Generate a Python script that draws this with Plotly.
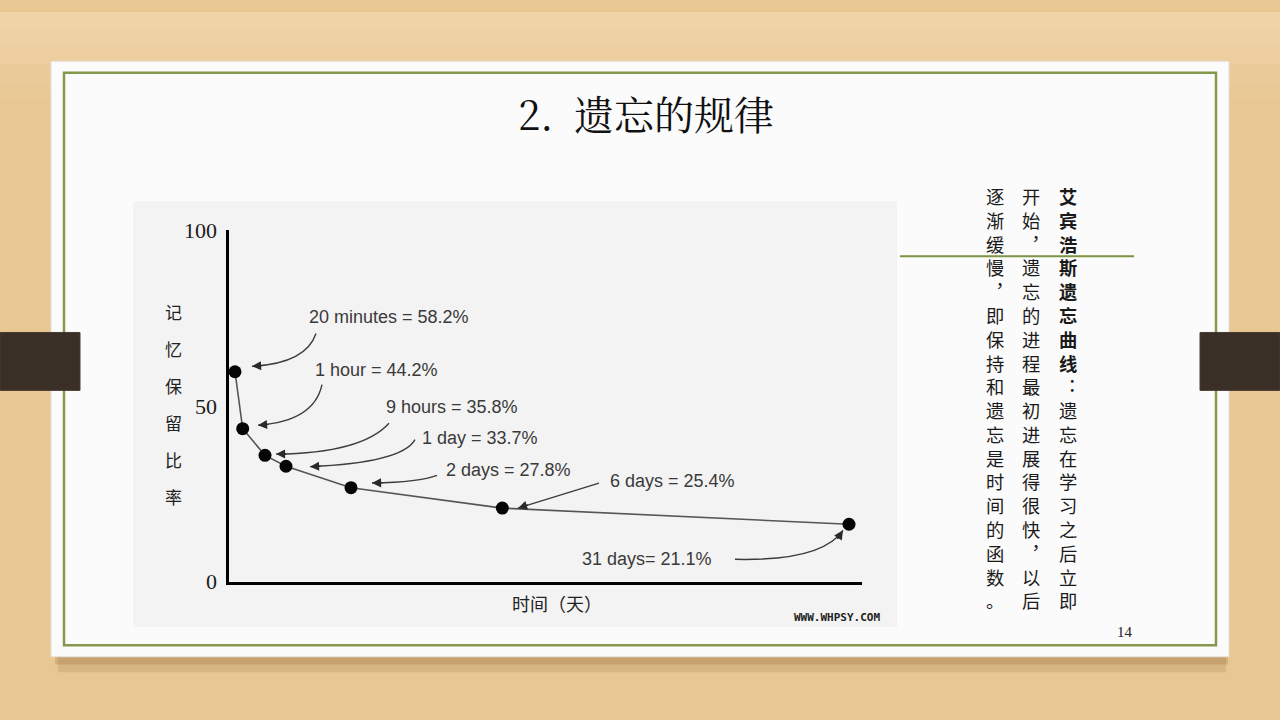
import plotly.graph_objects as go

# ---------------- data ----------------
time_labels = ["20 minutes", "1 hour", "9 hours", "1 day", "2 days", "6 days", "31 days"]
retention_pct = [58.2, 44.2, 35.8, 33.7, 27.8, 25.4, 21.1]
# position of each point along the (unlabelled) time axis, as drawn in the picture
time_axis_pos = [6.5, 14.2, 36.5, 57.5, 122.5, 273.8, 620.5]
# height of each point as drawn in the picture (0-100 retention scale)
plotted_retention = [59.7, 43.5, 35.9, 32.8, 26.7, 20.9, 16.3]
y_tick_vals = [0, 50, 100]
y_tick_text = ["0", "50", "100"]
y_title_chars = list("记忆保留比率")
x_title = "时间（天）"
title_text = "2.  遗忘的规律"
col1_bold = "艾宾浩斯遗忘曲线"
col1_rest = "︓遗忘在学习之后立即"
col2 = "开始︐遗忘的进程最初进展得很快︐以后"
col3 = "逐渐缓慢︐即保持和遗忘是时间的函数。"

W, H = 1280, 720
def px(x):
    return x / W
def py(y):
    return 1 - y / H

CJK = "Noto Sans CJK SC"
fig = go.Figure()

fig.add_trace(go.Scatter(
    x=time_axis_pos, y=plotted_retention, mode="lines+markers",
    line=dict(color="#555555", width=1.6),
    marker=dict(color="#050505", size=13),
    cliponaxis=False, showlegend=False, hoverinfo="skip"))

shapes = []
# lighter wash at top of the wood background (soft steps)
for k, op in enumerate([0.10, 0.12, 0.14, 0.16, 0.18]):
    shapes.append(dict(type="rect", xref="paper", yref="paper", x0=0, x1=1, y0=py(90 - k * 18), y1=1,
                       fillcolor=f"rgba(247,226,190,{op})", line=dict(width=0), layer="below"))
# page shadow
shapes.append(dict(type="rect", xref="paper", yref="paper", x0=px(58), x1=px(1226), y0=py(684), y1=py(668),
                   fillcolor="rgba(110,70,20,0.13)", line=dict(width=0), layer="below"))
shapes.append(dict(type="rect", xref="paper", yref="paper", x0=px(55), x1=px(1228), y0=py(676), y1=py(668),
                   fillcolor="rgba(110,70,20,0.18)", line=dict(width=0), layer="below"))
# white slide card
shapes.append(dict(type="rect", xref="paper", yref="paper", x0=px(51), x1=px(1229), y0=py(668), y1=py(51),
                   fillcolor="#fbfbfb", line=dict(color="#e4e0da", width=1), layer="below"))
# chart picture background
shapes.append(dict(type="rect", xref="paper", yref="paper", x0=px(133), x1=px(897), y0=py(637), y1=py(196),
                   fillcolor="#f3f3f3", line=dict(width=0), layer="below"))
# green frame
shapes.append(dict(type="rect", xref="paper", yref="paper", x0=px(64), x1=px(1216), y0=py(656), y1=py(63),
                   fillcolor="rgba(0,0,0,0)", line=dict(color="#86984b", width=2.5), layer="below"))
# brown tabs
for x0, x1 in [(0, 80), (1200, 1280)]:
    shapes.append(dict(type="rect", xref="paper", yref="paper", x0=px(x0), x1=px(x1), y0=py(392), y1=py(332),
                       fillcolor="#3a2f27", line=dict(color="#4a3d31", width=1), layer="above"))
# green rule next to the vertical text
shapes.append(dict(type="line", xref="paper", yref="paper", x0=px(900), x1=px(1134), y0=py(253), y1=py(253),
                   line=dict(color="#7d9440", width=2)))

# curved arrows: (tail, control, head) in pixel coordinates
curves = [
    ((316, 333), (306, 364), (252, 367)),
    ((322, 386), (314, 424), (258, 428)),
    ((389, 426), (362, 457), (276, 458)),
    ((415, 443), (402, 467), (310, 471)),
    ((437, 480), (420, 487), (372, 488)),
    ((599, 488), (562, 500), (518, 514)),
    ((735, 567), (822, 569), (843, 537)),
]
annotations = []
for (t, c, h) in curves:
    path = "M {:.5f},{:.5f} Q {:.5f},{:.5f} {:.5f},{:.5f}".format(px(t[0]), py(t[1]), px(c[0]), py(c[1]), px(h[0]), py(h[1]))
    shapes.append(dict(type="path", xref="paper", yref="paper", path=path,
                       line=dict(color="#3c3c3c", width=1.4)))
    dx, dy = c[0] - h[0], c[1] - h[1]
    n = (dx * dx + dy * dy) ** 0.5
    annotations.append(dict(xref="paper", yref="paper", x=px(h[0]), y=py(h[1]), text="",
                            showarrow=True, arrowhead=2, arrowsize=1.3, arrowwidth=1.4, arrowcolor="#2a2a2a",
                            ax=dx / n * 12, ay=dy / n * 12))

# point labels
label_pos = [(389, 316), (376, 371), (452, 409), (480, 441), (508, 474), (672, 486), (647, 567)]
for i, (lx, ly) in enumerate(label_pos):
    sep = "= " if i == len(time_labels) - 1 else " = "
    annotations.append(dict(xref="paper", yref="paper", x=px(lx), y=py(ly),
                            text=f"{time_labels[i]}{sep}{retention_pct[i]}%", showarrow=False,
                            font=dict(family="Liberation Sans, Arial", size=18, color="#3a3a3a"),
                            xanchor="center", yanchor="middle"))

# y axis title (vertical, one character per line, wide spacing)
for i, ch in enumerate(y_title_chars):
    annotations.append(dict(xref="paper", yref="paper", x=px(173), y=py(310 + i * 38.4), text=ch,
                            showarrow=False, font=dict(family=CJK, size=17, color="#222222"),
                            xanchor="center", yanchor="middle"))
# x axis title
annotations.append(dict(xref="paper", yref="paper", x=px(557), y=py(612), text=x_title, showarrow=False,
                        font=dict(family=CJK, size=18, color="#222222"), xanchor="center", yanchor="middle"))
# watermark
annotations.append(dict(xref="paper", yref="paper", x=px(837), y=py(627), text="<b>WWW.WHPSY.COM</b>",
                        showarrow=False, font=dict(family="DejaVu Sans Mono", size=11, color="#222222"),
                        xanchor="center", yanchor="middle"))
# title
annotations.append(dict(xref="paper", yref="paper", x=px(646), y=py(104), text=title_text, showarrow=False,
                        font=dict(family="Noto Serif CJK SC, " + CJK, size=40, color="#111111"),
                        xanchor="center", yanchor="middle"))
# page number
annotations.append(dict(xref="paper", yref="paper", x=px(1125), y=py(642), text="14", showarrow=False,
                        font=dict(family="Liberation Serif", size=15, color="#222222"),
                        xanchor="center", yanchor="middle"))

# vertical text columns (right to left), one annotation per column
vfont = 18.3
def column_text(chars, bold=False):
    return "<br>".join(f"<b>{c}</b>" if bold else c for c in chars)
columns = [
    (1068, column_text(col1_bold, True) + "<br>" + column_text(col1_rest)),
    (1031, column_text(col2)),
    (995, column_text(col3)),
]
for xc, txt in columns:
    annotations.append(dict(xref="paper", yref="paper", x=px(xc), y=py(175), text=txt, showarrow=False,
                            font=dict(family=CJK, size=vfont, color="#1a1a1a"),
                            xanchor="center", yanchor="top", align="center"))

fig.update_layout(
    width=W, height=H, margin=dict(l=0, r=0, t=0, b=0),
    paper_bgcolor="#e8c792", plot_bgcolor="rgba(0,0,0,0)",
    shapes=shapes, annotations=annotations, showlegend=False,
    xaxis=dict(domain=[px(228.5), px(862)], range=[0, 633.5], showline=True, linecolor="#000000", linewidth=3,
               showgrid=False, zeroline=False, showticklabels=False, ticks="", fixedrange=True),
    yaxis=dict(domain=[py(590), py(226)], range=[0, 100], showline=True, linecolor="#000000", linewidth=3,
               showgrid=False, zeroline=False, tickvals=y_tick_vals, ticktext=y_tick_text, ticks="",
               ticklabelstandoff=4,
               tickfont=dict(family="Liberation Serif", size=22, color="#1a1a1a"), fixedrange=True),
)

fig.write_html("out.html", config={"displayModeBar": False},
               post_script="document.body.style.margin='0';document.body.style.overflow='hidden';")
